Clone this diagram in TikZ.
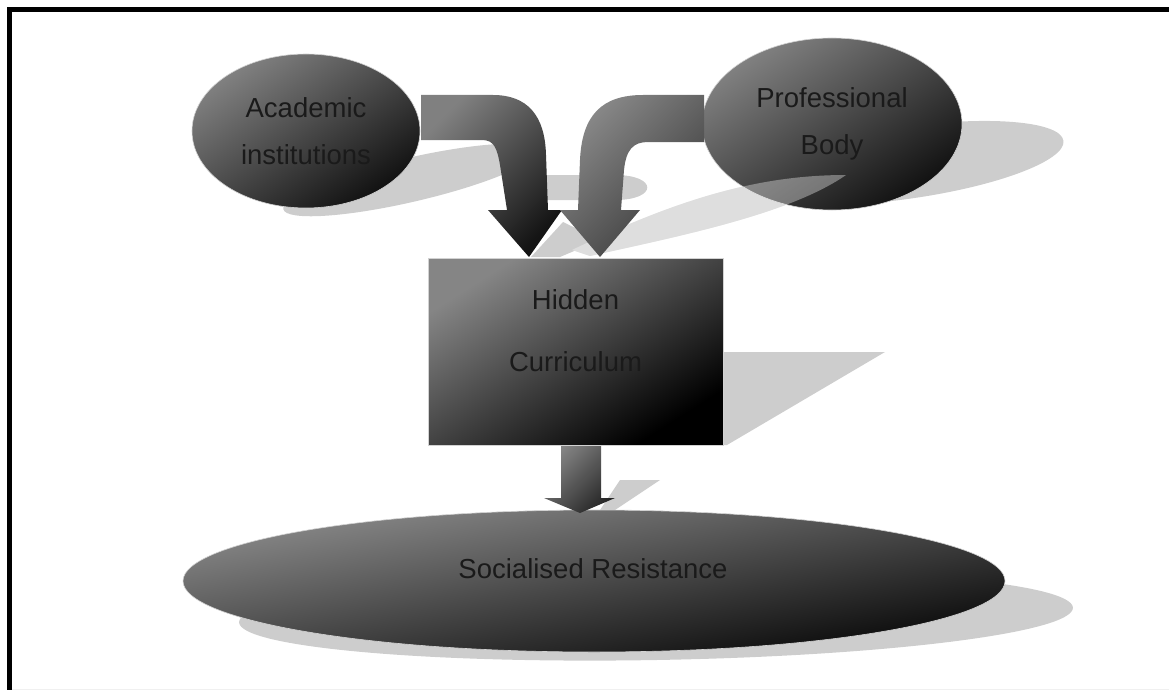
\documentclass[tikz,border=0pt]{standalone}
\usepackage{fontspec}
\setmainfont{Liberation Sans}
\usetikzlibrary{shapes.geometric}
\definecolor{shlight}{HTML}{808080}
\definecolor{shdark}{HTML}{121212}
\definecolor{shadowgray}{HTML}{CDCDCD}
\definecolor{txt}{HTML}{1A1A1A}
\begin{document}
\begin{tikzpicture}[x=1pt,y=-1pt,
  grad/.style={top color=shlight, bottom color=shdark, shading angle=45},
  boxgrad/.style={top color=black!48, bottom color=black, shading angle=45},
  arrowL/.style={top color=black!50, bottom color=black!92, shading angle=45},
  arrowR/.style={top color=black!46, bottom color=black!78, shading angle=45},
  arrowD/.style={top color=black!48, bottom color=black!85, shading angle=45},
  shadowfill/.style={fill=shadowgray, draw=none},
  lbl/.style={text=txt, font=\fontsize{27.5pt}{47pt}\selectfont, align=center},
  rim/.style={draw=gray!35, line width=0.6pt, inner sep=0pt},
  oval/.style={ellipse, rim}]
\useasboundingbox (0,0) rectangle (1169,690);
% frame
\draw[line width=5pt] (9.5,690) -- (9.5,9.5) -- (1169,9.5);
\draw[gray!12, line width=1pt] (12,689.5) -- (1169,689.5);

% ---- shadows (behind) ----
\fill[shadowfill, rotate around={13:(410,180)}] (410,180) ellipse [x radius=130, y radius=22];
\fill[shadowfill, rotate around={8:(905,163)}] (905,163) ellipse [x radius=160, y radius=36];
\fill[shadowfill] (510,175) -- (615,175) .. controls (658,175) and (658,200) .. (615,200) -- (510,200) -- cycle;
\fill[shadowfill] (531,257) -- (563,222) -- (600,240) -- (560,257) -- cycle;
\fill[shadowfill] (846,175) .. controls (760,175) and (680,198) .. (572,250) -- (590,256) .. controls (680,236) and (790,214) .. (846,175) -- cycle;
\fill[shadowfill] (723,352) -- (885,352) -- (727,445) -- (723,445) -- cycle;
\fill[shadowfill] (620,480) -- (660,480) -- (615,510) -- (600,510) -- cycle;
\fill[shadowfill, rotate around={1:(656,615)}] (656,615) ellipse [x radius=417, y radius=45];

% ---- shaded bodies (gradient scaled with the shape) ----
\begin{scope}[transform canvas={shift={(306,131)}, xscale=1.14, yscale=0.77}]
  \shade[grad] (0,0) circle (100);
\end{scope}
\begin{scope}[transform canvas={shift={(832,124)}, xscale=1.30, yscale=0.86}]
  \shade[grad] (0,0) circle (100);
\end{scope}
\begin{scope}[transform canvas={shift={(575.5,351.5)}, xscale=1.475, yscale=0.935}]
  \shade[boxgrad] (-100,-100) rectangle (100,100);
\end{scope}
\begin{scope}[transform canvas={shift={(594,581)}, xscale=4.11, yscale=0.71}]
  \shade[grad] (0,0) circle (100);
\end{scope}

% ---- nodes ----
\node[oval, lbl, minimum width=228pt, minimum height=154pt] (acad) at (306,131) {Academic\\institutions};
\node[oval, lbl, minimum width=260pt, minimum height=172pt] (prof) at (832,124) {Professional\\Body};
% shadow of the right arrow seen through the ellipse
\fill[white, opacity=0.35] (846,175) .. controls (760,175) and (680,198) .. (572,250) -- (590,256) .. controls (680,236) and (790,214) .. (846,175) -- cycle;
\node[rectangle, rim, minimum width=295pt, minimum height=187pt] (hidden) at (575.5,351.5) {};
\node[lbl, font=\fontsize{27.5pt}{62pt}\selectfont] (hiddentext) at (575.5,331) {Hidden\\Curriculum};
\node[oval, minimum width=822pt, minimum height=142pt] (soc) at (594,581) {};
\node[lbl] (soctext) at (593,569) {Socialised Resistance};

% ---- block arrows ----
\shade[arrowL] (421,95) -- (493,95) .. controls (527,95) and (545,115) .. (546,155) -- (548,210) -- (562,210) -- (529,257) -- (488,210) -- (507,210) -- (500,165) .. controls (497,148) and (494,140) .. (482,140) -- (421,140) -- cycle;
\shade[arrowR] (704,95) -- (643,95) .. controls (602,95) and (582,115) .. (580,160) -- (578,210) -- (560,210) -- (600,257) -- (640,210) -- (621,210) -- (624,170) .. controls (626,150) and (633,142) .. (648,142) -- (704,142) -- cycle;
\shade[arrowD] (561,446) -- (601,446) -- (601,498) -- (615,498) -- (580,513) -- (544,498) -- (561,498) -- cycle;
\end{tikzpicture}
\end{document}
